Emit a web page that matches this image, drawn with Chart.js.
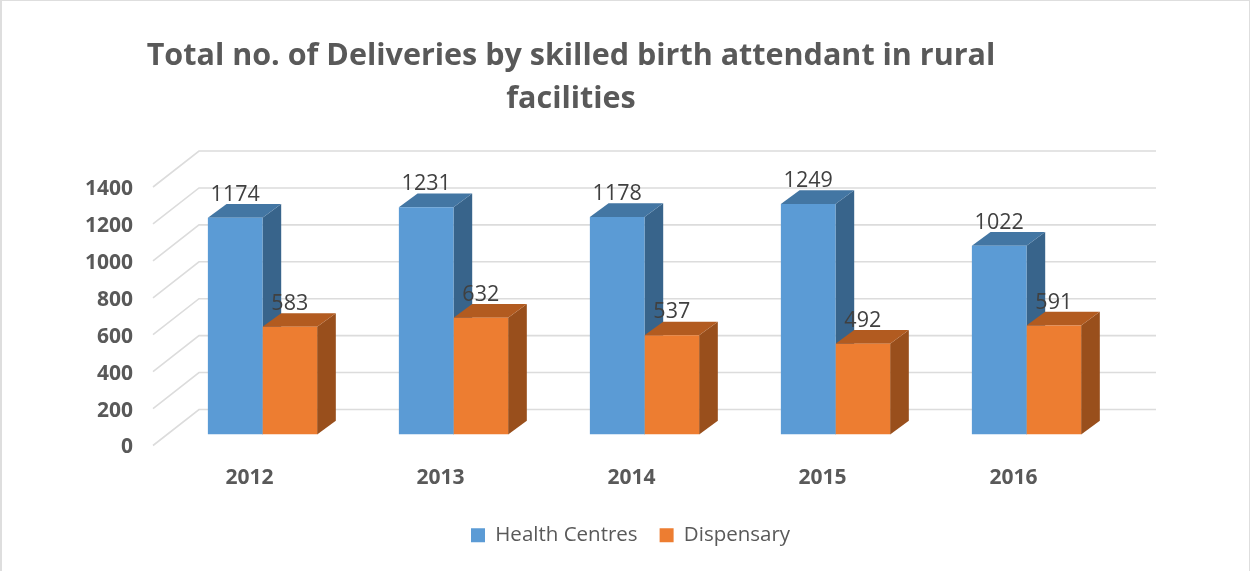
<!DOCTYPE html>
<html>
<head>
<meta charset="utf-8">
<script src="https://cdn.jsdelivr.net/npm/chart.js@4"></script>
<style>html,body{margin:0;padding:0;background:#fff}canvas{display:block}</style>
</head>
<body>
<canvas id="c" width="1250" height="571"></canvas>
<script>
const categories = ['2012', '2013', '2014', '2015', '2016'];
const healthCentres = [1174, 1231, 1178, 1249, 1022];
const dispensary = [583, 632, 537, 492, 591];
const titleLines = ['Total no. of Deliveries by skilled birth attendant in rural', 'facilities'];

const FONT = '"Open Sans", sans-serif';
const BAR_DX = 18.7, BAR_DY = 13.7;
const WALL_DY = 25, FLOOR_DY = 11;
const shades = [
  { side: '#38648B', top: '#4376A3' },
  { side: '#994F1C', top: '#B25B20' }
];

const scene3d = {
  id: 'scene3d',
  afterLayout(chart) {
    chart.legend.left = 471 - chart.legend.options.labels.padding;
    chart.legend.top = 503;
  },
  beforeDraw(chart) {
    const c = chart.ctx;
    c.save();
    c.fillStyle = '#DEDEDE';
    c.fillRect(0, 0, 2, chart.height);
    c.fillRect(0, 0, chart.width, 1);
    c.fillRect(chart.width - 1, 0, 1, chart.height);
    c.restore();
  },
  beforeDatasetsDraw(chart) {
    const c = chart.ctx, y = chart.scales.y, a = chart.chartArea;
    c.save();
    c.strokeStyle = '#DCDCDC';
    c.lineWidth = 1.6;
    y.ticks.forEach(t => {
      const p = y.getPixelForValue(t.value);
      c.beginPath();
      c.moveTo(a.left - 14, p + FLOOR_DY);
      c.lineTo(a.left + 32, p - WALL_DY);
      c.lineTo(a.right + 34, p - WALL_DY);
      c.stroke();
    });
    [0, 1].forEach(d => {
      chart.getDatasetMeta(d).data.forEach(bar => {
        const l = bar.x - bar.width / 2, r = bar.x + bar.width / 2, t = bar.y, b = bar.base;
        c.fillStyle = shades[d].side;
        c.beginPath();
        c.moveTo(r, t); c.lineTo(r + BAR_DX, t - BAR_DY); c.lineTo(r + BAR_DX, b - BAR_DY); c.lineTo(r, b);
        c.closePath(); c.fill();
        c.fillStyle = shades[d].top;
        c.beginPath();
        c.moveTo(l, t); c.lineTo(l + BAR_DX, t - BAR_DY); c.lineTo(r + BAR_DX, t - BAR_DY); c.lineTo(r, t);
        c.closePath(); c.fill();
      });
    });
    c.restore();
  },
  afterDatasetsDraw(chart) {
    const c = chart.ctx;
    c.save();
    c.fillStyle = '#404040';
    c.font = '21.5px ' + FONT;
    c.textAlign = 'center';
    c.textBaseline = 'middle';
    [0, 1].forEach(d => {
      chart.getDatasetMeta(d).data.forEach((bar, i) => {
        c.fillText(String(chart.data.datasets[d].data[i]), bar.x, bar.y - 23);
      });
    });
    c.restore();
  }
};

new Chart(document.getElementById('c'), {
  type: 'bar',
  data: {
    labels: categories,
    datasets: [
      { label: 'Health Centres', data: healthCentres, backgroundColor: '#5B9BD5' },
      { label: 'Dispensary', data: dispensary, backgroundColor: '#ED7D31' }
    ]
  },
  options: {
    responsive: false,
    animation: false,
    layout: { padding: { left: 20, right: 128, top: 0, bottom: 0 } },
    datasets: { bar: { barPercentage: 1, categoryPercentage: 0.572 } },
    scales: {
      x: {
        grid: { display: false, drawTicks: false },
        border: { display: false },
        afterFit(s) { s.height = 84; },
        ticks: { padding: 31, labelOffset: -13, color: '#595959', font: { family: FONT, size: 21, weight: 'bold' }, maxRotation: 0 }
      },
      y: {
        min: 0, max: 1400,
        grid: { display: false, drawTicks: false },
        border: { display: false },
        afterFit(s) { s.width = 147; },
        ticks: { stepSize: 200, padding: 34, labelOffset: 13, color: '#595959', font: { family: FONT, size: 21, weight: 'bold' }, callback: v => String(v) }
      }
    },
    plugins: {
      tooltip: { enabled: false },
      title: {
        display: true,
        text: titleLines,
        color: '#595959',
        font: { family: FONT, size: 30.5, weight: 'bold', lineHeight: '43px' },
        padding: { top: 34.5, bottom: 55.5 }
      },
      legend: {
        position: 'bottom',
        align: 'start',
        labels: {
          boxWidth: 14, boxHeight: 14, padding: 22,
          color: '#595959',
          font: { family: FONT, size: 20.5, lineHeight: '20px' }
        }
      }
    }
  },
  plugins: [scene3d]
});
</script>
</body>
</html>
